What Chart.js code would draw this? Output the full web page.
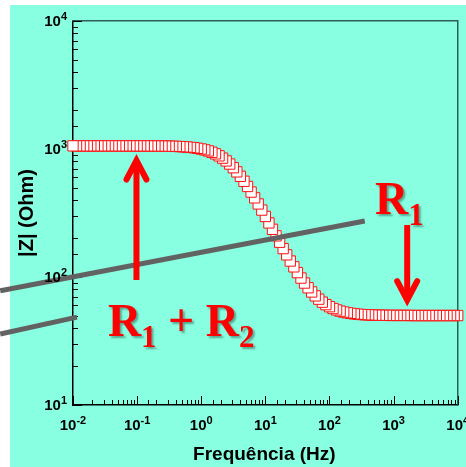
<!DOCTYPE html>
<html>
<head>
<meta charset="utf-8">
<script src="https://cdn.jsdelivr.net/npm/chart.js@4.4.0/dist/chart.umd.min.js"></script>
<style>
  html, body { margin: 0; padding: 0; background: #fff; }
  canvas { display: block; }
</style>
</head>
<body>
<canvas id="myChart" width="466" height="467"></canvas>
<script>
// Frequencies (Hz), 18 points per decade
const freqHz = [
  0.01, 0.01136, 0.01292, 0.01468, 0.01668, 0.01896, 0.02154, 0.02448, 0.02783, 0.03162, 0.03594, 0.04084, 0.04642, 0.05275, 0.05995, 0.06813, 0.07743, 0.08799,
  0.1, 0.1136, 0.1292, 0.1468, 0.1668, 0.1896, 0.2154, 0.2448, 0.2783, 0.3162, 0.3594, 0.4084, 0.4642, 0.5275, 0.5995, 0.6813, 0.7743, 0.8799,
  1, 1.136, 1.292, 1.468, 1.668, 1.896, 2.154, 2.448, 2.783, 3.162, 3.594, 4.084, 4.642, 5.275, 5.995, 6.813, 7.743, 8.799,
  10, 11.36, 12.92, 14.68, 16.68, 18.96, 21.54, 24.48, 27.83, 31.62, 35.94, 40.84, 46.42, 52.75, 59.95, 68.13, 77.43, 87.99,
  100, 113.6, 129.2, 146.8, 166.8, 189.6, 215.4, 244.8, 278.3, 316.2, 359.4, 408.4, 464.2, 527.5, 599.5, 681.3, 774.3, 879.9,
  1000, 1136, 1292, 1468, 1668, 1896, 2154, 2448, 2783, 3162, 3594, 4084, 4642, 5275, 5995, 6813, 7743, 8799,
  10000
];

// |Z| (Ohm) at each frequency
const impedanceOhm = [
  1058, 1058, 1058, 1058, 1058, 1058, 1058, 1058, 1058, 1058, 1058, 1058, 1058, 1058, 1058, 1058, 1058, 1058,
  1057.4, 1057.2, 1056.9, 1056.6, 1056.2, 1055.7, 1055.1, 1054.2, 1053.1, 1051.7, 1049.9, 1047.6, 1044.6, 1040.8, 1035.9, 1029.8, 1021.9, 1012.1,
  999.8, 984.4, 965.9, 943.0, 916.3, 884.4, 848.4, 807.1, 762.6, 713.9, 662.9, 611.8, 559.7, 509.6, 460.7, 415.3, 372.2, 333.2,
  297.1, 264.5, 235.8, 209.7, 186.9, 166.6, 149.0, 133.3, 120.0, 108.2, 98.1, 89.7, 82.4, 76.4, 71.2, 67.1, 63.6, 60.8,
  58.6, 56.7, 55.3, 54.1, 53.2, 52.5, 52.0, 51.5, 51.2, 50.9, 50.7, 50.6, 50.4, 50.3, 50.3, 50.2, 50.2, 50.1,
  50.1, 50.1, 50.1, 50.1, 50.1, 50.0, 50.0, 50.0, 50.0, 50.0, 50.0, 50.0, 50.0, 50.0, 50.0, 50.0, 50.0, 50.0,
  50.0
];

// Decade tick labels (exponents of 10)
const xTickExps = [-2, -1, 0, 1, 2, 3, 4];
const yTickExps = [1, 2, 3, 4];

// Gray guide lines (data coords, they run past the left axis)
const guideUpper = [{ x: 7.33e-4, y: 78.0 }, { x: 354.8, y: 273.9 }];
const guideLower = [{ x: 7.33e-4, y: 35.9 }, { x: 0.01153, y: 48.6 }];

// Red arrows: frequency, start |Z|, tip |Z|
const arrowSum = { x: 0.0977, from: 94.8, to: 912 };
const arrowR1 = { x: 1630, from: 254.7, to: 58.8 };

// Red labels: anchor (baseline-left) in data coords, pieces
const labelR1 = { x: 513, y: 310, parts: [['R', false], ['1', true]] };
const labelSum = { x: 0.035, y: 34.4, parts: [['R', false], ['1', true], [' + ', false], ['R', false], ['2', true]] };

const BG = '#88ffe0';
const SANS = '"Liberation Sans", Arial, sans-serif';
const SERIF = '"Liberation Serif", "Times New Roman", serif';

function isDecade(v) {
    const l = Math.log10(v);
    return Math.abs(l - Math.round(l)) < 1e-6;
}

// Fond: vit kant uppe och till vänster, sedan aquamarin
const backgroundPlugin = {
    id: 'background',
    beforeDraw(chart) {
        const ctx = chart.ctx;
        ctx.save();
        ctx.fillStyle = '#ffffff';
        ctx.fillRect(0, 0, chart.width, chart.height);
        ctx.fillStyle = BG;
        ctx.fillRect(10, 5, chart.width - 10, chart.height - 5);
        ctx.restore();
    }
};

// Inward tick marks on the bottom and left axes
const ticksPlugin = {
    id: 'inwardTicks',
    beforeDatasetsDraw(chart) {
        const { ctx, chartArea: a, scales: { x, y } } = chart;
        ctx.save();
        ctx.strokeStyle = '#000';
        ctx.lineWidth = 1;
        ctx.beginPath();
        x.ticks.forEach(t => {
            const px = Math.round(x.getPixelForValue(t.value)) + 0.5;
            const len = isDecade(t.value) ? 9 : 5;
            ctx.moveTo(px, a.bottom);
            ctx.lineTo(px, a.bottom - len);
        });
        y.ticks.forEach(t => {
            const py = Math.round(y.getPixelForValue(t.value)) + 0.5;
            const len = isDecade(t.value) ? 9 : 5;
            ctx.moveTo(a.left, py);
            ctx.lineTo(a.left + len, py);
        });
        ctx.stroke();
        ctx.restore();
    }
};

function drawPower(ctx, exp, x, y, align) {
    const base = '10', sup = String(exp);
    ctx.font = 'bold 15px ' + SANS;
    const wb = ctx.measureText(base).width;
    ctx.font = 'bold 11px ' + SANS;
    const ws = ctx.measureText(sup).width;
    const left = align === 'right' ? x - wb - ws : x - (wb + ws) / 2;
    ctx.textAlign = 'left';
    ctx.textBaseline = 'alphabetic';
    ctx.font = 'bold 15px ' + SANS;
    ctx.fillText(base, left, y);
    ctx.font = 'bold 11px ' + SANS;
    ctx.fillText(sup, left + wb, y - 6);
}

function drawArrow(ctx, x, yFrom, yTo) {
    const dir = Math.sign(yTo - yFrom);
    ctx.strokeStyle = '#ff0000';
    ctx.lineWidth = 6;
    ctx.lineCap = 'butt';
    ctx.beginPath();
    ctx.moveTo(x, yFrom);
    ctx.lineTo(x, yTo - dir * 8);
    ctx.stroke();
    const vy = yTo - dir * 6.4;
    ctx.lineCap = 'round';
    ctx.lineJoin = 'miter';
    ctx.beginPath();
    ctx.moveTo(x - 10, vy - dir * 19);
    ctx.lineTo(x, vy);
    ctx.lineTo(x + 10, vy - dir * 19);
    ctx.stroke();
}

function drawLabel(ctx, parts, x, y) {
    ctx.save();
    ctx.fillStyle = '#ff0000';
    ctx.shadowColor = 'rgba(0,0,0,0.35)';
    ctx.shadowOffsetX = 2;
    ctx.shadowOffsetY = 2;
    ctx.shadowBlur = 2;
    ctx.textAlign = 'left';
    ctx.textBaseline = 'alphabetic';
    let cx = x;
    parts.forEach(([txt, sub]) => {
        ctx.font = (sub ? 'bold 31px ' : 'bold 46px ') + SERIF;
        ctx.fillText(txt, cx, sub ? y + 11 : y);
        cx += ctx.measureText(txt).width;
    });
    ctx.restore();
}

// Tick labels, axis titles, arrows and red labels
const labelsPlugin = {
    id: 'labels',
    afterDraw(chart) {
        const { ctx, chartArea: a, scales: { x, y } } = chart;
        ctx.save();
        ctx.fillStyle = '#000';
        xTickExps.forEach(e => drawPower(ctx, e, x.getPixelForValue(Math.pow(10, e)), a.bottom + 25, 'center'));
        yTickExps.forEach(e => drawPower(ctx, e, a.left - 6, y.getPixelForValue(Math.pow(10, e)) + 5, 'right'));

        ctx.font = 'bold 19px ' + SANS;
        ctx.textAlign = 'center';
        ctx.textBaseline = 'alphabetic';
        ctx.fillText('Frequência (Hz)', (a.left + a.right) / 2 - 1, a.bottom + 55);

        ctx.save();
        ctx.translate(33, (a.top + a.bottom) / 2);
        ctx.rotate(-Math.PI / 2);
        ctx.font = 'bold 20px ' + SANS;
        ctx.fillText('|Z| (Ohm)', 0, 0);
        ctx.restore();

        [arrowSum, arrowR1].forEach(ar => {
            drawArrow(ctx, x.getPixelForValue(ar.x), y.getPixelForValue(ar.from), y.getPixelForValue(ar.to));
        });
        [labelR1, labelSum].forEach(lb => {
            drawLabel(ctx, lb.parts, x.getPixelForValue(lb.x), y.getPixelForValue(lb.y));
        });
        ctx.restore();
    }
};

const points = freqHz.map((f, i) => ({ x: f, y: impedanceOhm[i] })).reverse();

const hiddenAxis = (pos, color, width) => ({
    type: 'logarithmic',
    position: pos,
    ticks: { display: false },
    grid: { display: false, drawTicks: false },
    border: { display: true, color: color, width: width }
});

const ctx = document.getElementById('myChart').getContext('2d');
new Chart(ctx, {
    type: 'scatter',
    data: {
        datasets: [
            {
                data: guideUpper, showLine: true, borderColor: '#626262', borderWidth: 5,
                borderCapStyle: 'butt', pointRadius: 0, clip: false, order: 0
            },
            {
                data: guideLower, showLine: true, borderColor: '#626262', borderWidth: 5,
                borderCapStyle: 'butt', pointRadius: 0, clip: false, order: 0
            },
            {
                data: points, pointStyle: 'rect', pointRadius: 7.3, pointBorderWidth: 1,
                pointBorderColor: '#ff1010', pointBackgroundColor: '#ffffff', clip: false, order: 1
            }
        ]
    },
    options: {
        responsive: false,
        animation: false,
        devicePixelRatio: 1,
        events: [],
        layout: { padding: { left: 73, top: 21, right: 7, bottom: 62 } },
        plugins: { legend: { display: false }, tooltip: { enabled: false } },
        scales: {
            x: Object.assign(hiddenAxis('bottom', '#000', 1.5), { min: 0.01, max: 10000 }),
            y: Object.assign(hiddenAxis('left', '#000', 1.5), { min: 10, max: 10000 }),
            xTop: Object.assign(hiddenAxis('top', '#2f5e54', 1.5), { min: 0.01, max: 10000 }),
            yRight: Object.assign(hiddenAxis('right', '#2f5e54', 1.5), { min: 10, max: 10000 })
        }
    },
    plugins: [backgroundPlugin, ticksPlugin, labelsPlugin]
});
</script>
</body>
</html>
